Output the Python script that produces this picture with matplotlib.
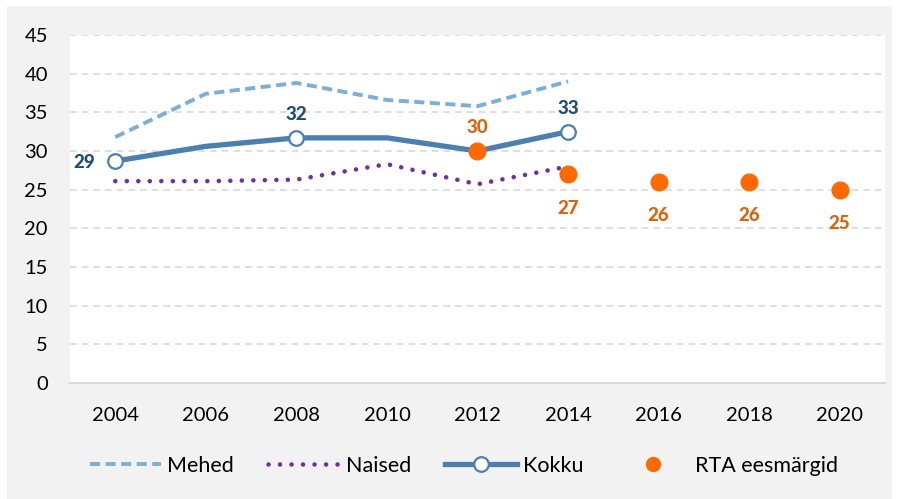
import numpy as np
import matplotlib
matplotlib.use("Agg")
import matplotlib.pyplot as plt
from matplotlib.lines import Line2D
from matplotlib.patches import Rectangle

years = ["2004", "2006", "2008", "2010", "2012", "2014", "2016", "2018", "2020"]
mehed = [31.8, 37.4, 38.8, 36.6, 35.8, 39.0]
naised = [26.1, 26.1, 26.3, 28.3, 25.7, 28.0]
kokku = [28.7, 30.6, 31.7, 31.7, 30.0, 32.5]
kokku_labels = {0: "29", 2: "32", 5: "33"}
rta_idx = [4, 5, 6, 7, 8]
rta = [30, 27, 26, 26, 25]
rta_labels = ["30", "27", "26", "26", "25"]

plt.rcParams['font.family'] = ['Lato', 'DejaVu Sans']

fig = plt.figure(figsize=(9.03, 4.99), dpi=100, facecolor="white")
fig.patches.append(Rectangle((7 / 903, 0), 885 / 903, 493 / 499, transform=fig.transFigure,
                             facecolor="#f2f2f2", edgecolor="none", zorder=-10))
ax = fig.add_axes([70 / 903, 1 - 383 / 499, 815 / 903, 348 / 499])
ax.set_facecolor("white")

x = np.arange(len(years))
xl = x[:len(mehed)]

c_mehed = "#7bafd8"
c_naised = "#7030a0"
c_kokku = "#4a7fb0"
c_rta = "#ff6a00"
c_lab_blue = "#1f4e79"
c_lab_orange = "#e0620c"

mehed_style = dict(color=c_mehed, lw=2.8, dashes=(2.6, 1.4))
naised_style = dict(color=c_naised, lw=3.3, dashes=(0.01, 2.5), dash_capstyle="round")

ax.plot(xl, mehed, zorder=3, **mehed_style)
ax.plot(xl, naised, zorder=3, **naised_style)
ax.plot(xl, kokku, color=c_kokku, lw=3.8, solid_capstyle="round", zorder=4)
mk = list(kokku_labels.keys())
ax.plot(xl[mk], np.array(kokku)[mk], ls="none", marker="o", ms=10.5, mfc="white",
        mec=c_kokku, mew=1.6, zorder=5)
ax.plot(x[rta_idx], rta, ls="none", marker="o", ms=12, color=c_rta, zorder=6)

for i, lab in kokku_labels.items():
    if i == 0:
        off = (-22, -1)
    else:
        off = (0, 17)
    ax.annotate(lab, (xl[i], kokku[i]), xytext=off, textcoords="offset points",
                ha="center", va="center", fontsize=13.5, fontweight="black", color=c_lab_blue)
for i, v, lab in zip(rta_idx, rta, rta_labels):
    off = (0, 17) if i == 4 else (0, -24.5)
    ax.annotate(lab, (x[i], v), xytext=off, textcoords="offset points",
                ha="center", va="center", fontsize=13.5, fontweight="black", color=c_lab_orange)

ax.set_xlim(-0.5, len(years) - 0.5)
ax.set_ylim(0, 45)
ax.set_yticks(np.arange(0, 46, 5))
ax.set_xticks(x)
ax.set_xticklabels(years)
ax.tick_params(axis="both", length=0, labelsize=14.5, colors="black")
ax.tick_params(axis="y", pad=16)
ax.tick_params(axis="x", pad=17)
ax.yaxis.grid(True, color="#d9d9d9", lw=1.2, dashes=(4, 3))
ax.set_axisbelow(True)
for s in ["top", "right", "left"]:
    ax.spines[s].set_visible(False)
ax.spines["bottom"].set_color("#d9d9d9")
ax.spines["bottom"].set_linewidth(1.5)

handles = [
    Line2D([], [], **mehed_style),
    Line2D([], [], **naised_style),
    Line2D([], [], color=c_kokku, lw=3.8, marker="o", ms=10.5, mfc="white", mec=c_kokku, mew=1.6),
    Line2D([], [], ls="none", marker="o", ms=10, color=c_rta),
]
fig.legend(handles, ["Mehed", "Naised", "Kokku", "RTA eesmärgid"], loc="center",
           bbox_to_anchor=(464 / 903, 1 - 466 / 499), ncol=4, frameon=False, fontsize=15.5,
           handlelength=3.3, handletextpad=0.3, columnspacing=1.6, numpoints=1)

fig.savefig("out.png", dpi=100, facecolor=fig.get_facecolor())
